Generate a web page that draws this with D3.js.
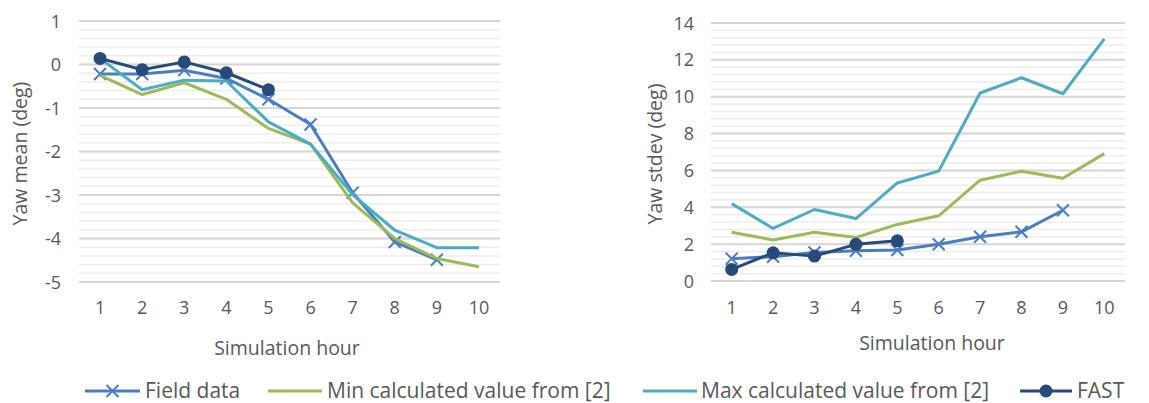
<!DOCTYPE html>
<html>
<head>
<meta charset="utf-8">
<script src="https://cdn.jsdelivr.net/npm/d3@7"></script>
<style>
  body { margin: 0; background: #fff; }
  text { font-family: "Open Sans", "Noto Sans", sans-serif; fill: #595959; }
</style>
</head>
<body>
<svg id="chart"></svg>
<script>
var w = 1149;
var h = 403;

// data
var hours = [1, 2, 3, 4, 5, 6, 7, 8, 9, 10];
var meanField = [-0.22, -0.22, -0.13, -0.32, -0.80, -1.38, -2.95, -4.08, -4.49];
var meanMin   = [-0.25, -0.69, -0.42, -0.80, -1.47, -1.83, -3.18, -4.00, -4.46, -4.65];
var meanMax   = [0.14, -0.58, -0.36, -0.38, -1.32, -1.83, -2.99, -3.81, -4.21, -4.21];
var meanFast  = [0.14, -0.12, 0.06, -0.19, -0.58];
var meanTicks = [1, 0, -1, -2, -3, -4, -5];

var sdField = [1.21, 1.32, 1.55, 1.64, 1.68, 1.99, 2.40, 2.67, 3.84];
var sdMin   = [2.65, 2.22, 2.64, 2.36, 3.07, 3.54, 5.47, 5.96, 5.58, 6.91];
var sdMax   = [4.20, 2.85, 3.88, 3.39, 5.32, 5.96, 10.20, 11.03, 10.16, 13.14];
var sdFast  = [0.63, 1.53, 1.35, 1.99, 2.18];
var sdTicks = [0, 2, 4, 6, 8, 10, 12, 14];

var seriesNames = ["Field data", "Min calculated value from [2]", "Max calculated value from [2]", "FAST"];
var colors = ["#4a7ec2", "#9bbb59", "#4bacc6", "#264a7a"];

var svg = d3.select("#chart").attr("width", w).attr("height", h);

drawPanel({
    left: 79, right: 500, top: 21, bottom: 282,
    domain: [-5, 1], minorStep: 0.2, ticks: meanTicks,
    series: [meanField, meanMin, meanMax, meanFast],
    ylabel: "Yaw mean (deg)", ylabelX: 27, tickX: 61,
    xlabelX: 287, xlabelY: 355
});

drawPanel({
    left: 711, right: 1125, top: 23, bottom: 281,
    domain: [0, 14], minorStep: 0.4, ticks: sdTicks,
    series: [sdField, sdMin, sdMax, sdFast],
    ylabel: "Yaw stdev (deg)", ylabelX: 662, tickX: 694,
    xlabelX: 932, xlabelY: 350
});

drawLegend();

function drawPanel(p) {
    var x = d3.scaleBand().domain(hours).range([p.left, p.right]);
    var y = d3.scaleLinear().domain(p.domain).range([p.bottom, p.top]);
    var g = svg.append("g");

    // minor gridlines
    var minor = d3.range(p.domain[0], p.domain[1] + 1e-9, p.minorStep);
    g.selectAll(".minor").data(minor).enter().append("line")
        .attr("x1", p.left).attr("x2", p.right)
        .attr("y1", function(d){ return y(d); })
        .attr("y2", function(d){ return y(d); })
        .attr("stroke", "#ededed").attr("stroke-width", 1.5);

    // major gridlines
    g.selectAll(".major").data(p.ticks).enter().append("line")
        .attr("x1", p.left).attr("x2", p.right)
        .attr("y1", function(d){ return y(d); })
        .attr("y2", function(d){ return y(d); })
        .attr("stroke", "#d6d6d6").attr("stroke-width", 2);

    // y tick labels
    g.selectAll(".ytick").data(p.ticks).enter().append("text")
        .attr("x", p.tickX)
        .attr("y", function(d){ return y(d) + 6.5; })
        .attr("text-anchor", "end")
        .style("font-size", "18px")
        .text(function(d){ return d; });

    // x tick labels
    g.selectAll(".xtick").data(hours).enter().append("text")
        .attr("x", function(d){ return x(d) + x.bandwidth() / 2; })
        .attr("y", 314)
        .attr("text-anchor", "middle")
        .style("font-size", "18px")
        .text(function(d){ return d; });

    g.append("text")
        .attr("x", p.xlabelX).attr("y", p.xlabelY)
        .attr("text-anchor", "middle")
        .style("font-size", "19.5px")
        .text("Simulation hour");

    g.append("text")
        .attr("transform", "translate(" + p.ylabelX + "," + ((p.top + p.bottom) / 2 + 2) + ") rotate(-90)")
        .attr("text-anchor", "middle")
        .style("font-size", "19.5px")
        .text(p.ylabel);

    var line = d3.line()
        .x(function(d, i){ return x(hours[i]) + x.bandwidth() / 2; })
        .y(function(d){ return y(d); });

    p.series.forEach(function(s, k) {
        g.append("path")
            .attr("d", line(s))
            .attr("fill", "none")
            .attr("stroke", colors[k])
            .attr("stroke-width", 3)
            .attr("stroke-linejoin", "round");

        if (k == 0) {
            s.forEach(function(d, i) {
                var cx = x(hours[i]) + x.bandwidth() / 2, cy = y(d);
                drawCross(g, cx, cy, colors[0]);
            });
        }
        if (k == 3) {
            g.selectAll(".fast").data(s).enter().append("circle")
                .attr("cx", function(d, i){ return x(hours[i]) + x.bandwidth() / 2; })
                .attr("cy", function(d){ return y(d); })
                .attr("r", 6.5)
                .attr("fill", colors[3]);
        }
    });
}

function drawCross(g, cx, cy, c) {
    var r = 6;
    g.append("path")
        .attr("d", "M" + (cx - r) + "," + (cy - r) + "L" + (cx + r) + "," + (cy + r) +
                   "M" + (cx - r) + "," + (cy + r) + "L" + (cx + r) + "," + (cy - r))
        .attr("stroke", c).attr("stroke-width", 2).attr("fill", "none");
}

function drawLegend() {
    // symbol start, symbol end, text start
    var spots = [[85, 140, 145], [268, 322, 327], [643, 697, 701], [1020, 1072, 1077]];
    var ly = 391;
    seriesNames.forEach(function(name, k) {
        var s = spots[k];
        svg.append("line")
            .attr("x1", s[0]).attr("x2", s[1])
            .attr("y1", ly).attr("y2", ly)
            .attr("stroke", colors[k]).attr("stroke-width", 3);
        var mid = (s[0] + s[1]) / 2;
        if (k == 0) drawCross(svg, mid, ly, colors[0]);
        if (k == 3) svg.append("circle").attr("cx", mid).attr("cy", ly).attr("r", 6.5).attr("fill", colors[3]);
        svg.append("text")
            .attr("x", s[2]).attr("y", ly + 6.5)
            .style("font-size", "21px")
            .text(name);
    });
}
</script>
</body>
</html>
